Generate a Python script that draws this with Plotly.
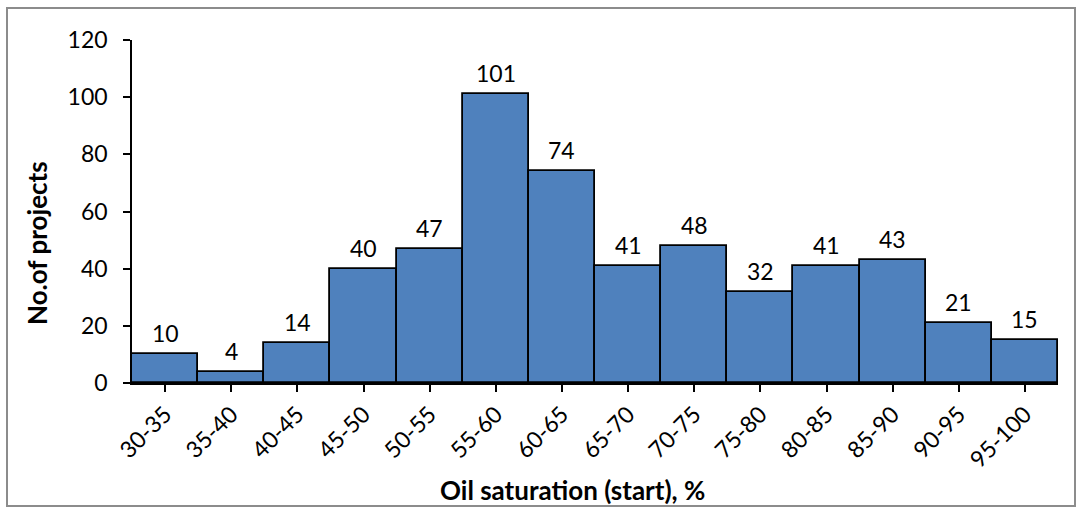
import plotly.graph_objects as go

# Distribution of projects by starting oil saturation
bins = ["30-35", "35-40", "40-45", "45-50", "50-55", "55-60", "60-65",
        "65-70", "70-75", "75-80", "80-85", "85-90", "90-95", "95-100"]
projects = [10, 4, 14, 40, 47, 101, 74, 41, 48, 32, 41, 43, 21, 15]
y_ticks = [0, 20, 40, 60, 80, 100, 120]
x_title = "Oil saturation (start), %"
y_title = "No.of projects"

FONT = "Lato"
FS = 23
TS = 26
W, H = 1078, 508
L, R, T, B = 132, 20, 40, 125
pw, ph = W - L - R, H - T - B

fig = go.Figure(go.Bar(
    x=bins,
    y=projects,
    width=1,
    marker=dict(color="#4F81BD", line=dict(color="black", width=1.8)),
    cliponaxis=False,
))

# value labels above each bar
for b, v in zip(bins, projects):
    fig.add_annotation(x=b, y=v, text=str(v), showarrow=False,
                       yanchor="bottom", yshift=5,
                       font=dict(family=FONT, size=FS, color="black"))


def px_x(p):
    return (p - L) / pw


def px_y(p):
    return (H - B - p) / ph


# axis titles, placed in the chart area frame
fig.add_annotation(xref="paper", yref="paper", x=px_x(572), y=px_y(490),
                   text=f"<b>{x_title}</b>", showarrow=False,
                   xanchor="center", yanchor="middle",
                   font=dict(family=FONT, size=TS, color="black"))
fig.add_annotation(xref="paper", yref="paper", x=px_x(37), y=px_y(243),
                   text=f"<b>{y_title}</b>", showarrow=False, textangle=-90,
                   xanchor="center", yanchor="middle",
                   font=dict(family=FONT, size=TS, color="black"))

# outer frame of the chart
fig.add_shape(type="rect", xref="paper", yref="paper",
              x0=px_x(7), x1=px_x(1075), y0=px_y(506), y1=px_y(8),
              line=dict(color="#8c8c8c", width=2), layer="below")

fig.update_layout(
    width=W, height=H,
    margin=dict(l=L, r=R, t=T, b=B),
    plot_bgcolor="white", paper_bgcolor="white",
    font=dict(family=FONT, size=FS, color="black"),
    showlegend=False,
    bargap=0,
    xaxis=dict(
        range=[-0.5, len(bins) - 0.5],
        showline=True, linecolor="black", linewidth=1.5,
        ticks="outside", ticklen=7, tickcolor="black", tickwidth=1.5,
        tickangle=-45,
        tickfont=dict(family=FONT, size=FS, color="black"),
        showgrid=False, zeroline=False,
    ),
    yaxis=dict(
        range=[0, 120],
        tickvals=y_ticks,
        showline=True, linecolor="black", linewidth=1.5,
        ticks="outside", ticklen=7, tickcolor="black", tickwidth=1.5,
        ticklabelstandoff=11,
        tickfont=dict(family=FONT, size=FS, color="black"),
        showgrid=False, zeroline=False,
    ),
)

fig.write_html("out.html")
